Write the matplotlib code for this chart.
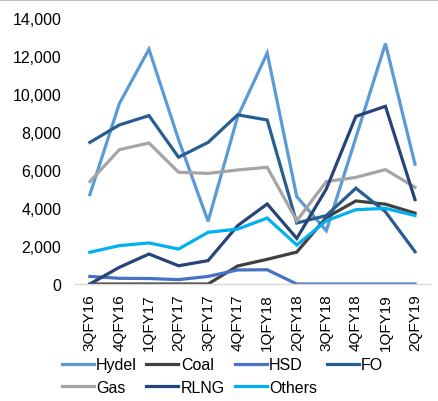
import numpy as np
import matplotlib.pyplot as plt
from matplotlib.lines import Line2D

plt.rcParams['font.family'] = ['Liberation Sans', 'DejaVu Sans']

quarters = ['3QFY16', '4QFY16', '1QFY17', '2QFY17', '3QFY17', '4QFY17',
            '1QFY18', '2QFY18', '3QFY18', '4QFY18', '1QFY19', '2QFY19']

hydel = [4700, 9500, 12350, 7600, 3300, 8800, 12150, 4600, 2800, 7700, 12650, 6300]
coal = [0, 0, 0, 0, 0, 950, 1300, 1680, 3500, 4370, 4200, 3730]
hsd = [400, 300, 290, 230, 400, 740, 750, 0, 0, 0, 0, 0]
fo = [7450, 8370, 8860, 6670, 7450, 8900, 8630, 3210, 3600, 5040, 3800, 1700]
gas = [5390, 7070, 7420, 5880, 5820, 6000, 6140, 3330, 5390, 5610, 6020, 5090]
rlng = [0, 880, 1580, 960, 1230, 3070, 4210, 2400, 5000, 8820, 9350, 4440]
others = [1670, 2020, 2160, 1840, 2720, 2890, 3470, 2050, 3330, 3910, 3980, 3600]

series = [('Hydel', hydel, '#5B9BD5'),
          ('Coal', coal, '#404040'),
          ('HSD', hsd, '#4472C4'),
          ('FO', fo, '#255E91'),
          ('Gas', gas, '#A5A5A5'),
          ('RLNG', rlng, '#264478'),
          ('Others', others, '#00B0F0')]

fig = plt.figure(figsize=(4.39, 4.02), dpi=100)
ax = fig.add_axes([0.171, 0.291, 0.808, 0.662])

x = np.arange(len(quarters))
lines = {}
for name, vals, col in series:
    lines[name], = ax.plot(x, vals, color=col, lw=2.3, label=name,
                           solid_joinstyle='miter')

ax.set_xlim(-0.5, len(quarters) - 0.5)
ax.set_ylim(0, 14000)
ax.set_yticks(np.arange(0, 14001, 2000))
ax.set_yticklabels([f'{v:,}' for v in range(0, 14001, 2000)])
ax.set_xticks(x)
ax.set_xticklabels(quarters, rotation=90)

for s in ['top', 'right', 'left']:
    ax.spines[s].set_visible(False)
ax.spines['bottom'].set_color('#D9D9D9')
ax.spines['bottom'].set_linewidth(1)
ax.tick_params(axis='y', length=0, labelsize=11.5, colors='#000000', pad=10)
ax.tick_params(axis='x', length=0, labelsize=11, colors='#000000', pad=7)

# legend filled column-wise, so order it to read row-wise
order = ['Hydel', 'Gas', 'Coal', 'RLNG', 'HSD', 'Others', 'FO']
fig.legend([lines[n] for n in order], order, loc='lower left',
           bbox_to_anchor=(0.115, -0.012), ncol=4,
           frameon=False, fontsize=11.5, handlelength=2.0, handletextpad=0.15,
           columnspacing=0.6, labelspacing=0.45, borderpad=0.2)

fig.add_artist(Line2D([0, 1], [0.998, 0.998], color='#BFBFBF', lw=1.5,
                      transform=fig.transFigure))

fig.savefig('out.png', dpi=100)
